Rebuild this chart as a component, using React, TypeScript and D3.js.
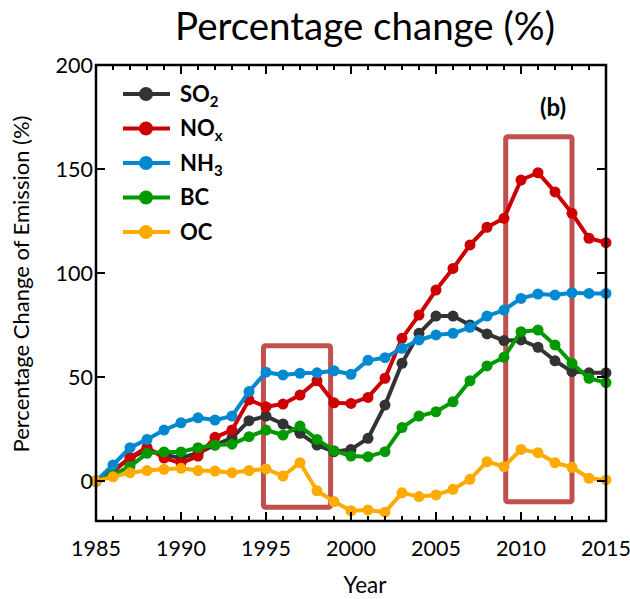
import React from "react";
import * as d3 from "d3";

const years = d3.range(1985, 2016);
const so2 = [0, 5, 11, 15, 12.5, 11.2, 13.4, 17.3, 20.7, 29, 31.2, 27.4, 22.9, 17.3, 14.1, 15.2, 20.5, 36.5, 56.6, 71, 79.3, 79.3, 75, 70.7, 67.5, 67.8, 64.3, 57.8, 52.6, 52, 52];
const nox = [0, 4.5, 11.2, 16.2, 11, 8.6, 12, 21, 24.5, 39, 35.7, 37, 41.3, 48.2, 37.6, 37.3, 40.2, 49.4, 68.6, 79.8, 91.8, 102.2, 113.5, 122, 126.3, 144.7, 148.2, 139, 128.7, 116.7, 114.6];
const nh3 = [0, 7.7, 16, 20, 24.5, 28, 30.4, 29.3, 31.2, 43, 52.3, 51, 51.8, 52, 53, 51.3, 58, 59.3, 63.8, 67.8, 70.2, 71, 73.9, 79.3, 82.2, 87.8, 89.9, 89.4, 90.5, 90.2, 90.2];
const bc = [0, 3, 7, 13.3, 14, 14, 16, 17.3, 17.7, 21.3, 24.5, 22.1, 26.4, 20, 14.6, 12, 11.7, 14.1, 25.7, 31.2, 33.3, 38.1, 48.2, 55.3, 59.5, 71.8, 72.6, 65.4, 56.6, 49.4, 47.3];
const oc = [0, 2, 4, 5, 5.6, 6.1, 5, 4.8, 4, 5, 5.8, 2.4, 8.8, -4.7, -9.9, -14.3, -13.9, -15, -5.7, -7.5, -6.7, -4, 0.8, 9.3, 6.9, 15.2, 13.6, 8.8, 6.6, 1.3, 0.5];

const seriesNames = ["SO", "NO", "NH", "BC", "OC"];
const seriesSubs = ["2", "x", "3", "", ""];
const seriesColors = ["#333333", "#cc0000", "#0088d1", "#009900", "#ffaa00"];
const seriesValues = [so2, nox, nh3, bc, oc];

const xTicks = [1985, 1990, 1995, 2000, 2005, 2010, 2015];
const yTicks = [0, 50, 100, 150, 200];

// highlight boxes: [yearStart, yearEnd, valueTop, valueBottom]
const boxes = [
  [1994.85, 1998.8, 65, -12.6],
  [2009.1, 2013.0, 165.5, -10],
];

const W = 630;
const H = 599;
const left = 96;
const right = 606;
const top = 65;
const bottom = 521;
const font = "Lato, 'Open Sans', sans-serif";

export default function App() {
  const x = d3.scaleLinear().domain([1985, 2015]).range([left, right]);
  const y = d3.scaleLinear().domain([0, 200]).range([481, 65]);
  const line = d3
    .line<number>()
    .x((_, i) => x(years[i]))
    .y((d) => y(d));
  const minorX = d3.range(1985, 2016);

  return (
    <svg width={W} height={H} style={{ position: "absolute", left: 0, top: 0 }}>
      <rect x={0} y={0} width={W} height={H} fill="#ffffff" />
      <text x={365} y={40} textAnchor="middle" fontFamily={font} fontSize={38.5} fill="#000">
        Percentage change (%)
      </text>

      {boxes.map((b, i) => (
        <rect
          key={"b" + i}
          x={x(b[0])}
          y={y(b[2])}
          width={x(b[1]) - x(b[0])}
          height={y(b[3]) - y(b[2])}
          fill="none"
          stroke="#c0504d"
          strokeWidth={5}
          rx={2}
        />
      ))}

      {seriesValues.map((vals, si) => (
        <g key={"s" + si}>
          <path d={line(vals) || ""} fill="none" stroke={seriesColors[si]} strokeWidth={4} strokeLinejoin="round" />
          {vals.map((v, i) => (
            <circle key={i} cx={x(years[i])} cy={y(v)} r={5.5} fill={seriesColors[si]} />
          ))}
        </g>
      ))}

      <rect x={left} y={top} width={right - left} height={bottom - top} fill="none" stroke="#000" strokeWidth={2.5} />

      {minorX.map((yr) => {
        const major = yr % 5 === 0;
        const len = major ? 9 : 5;
        return (
          <g key={"xt" + yr}>
            <line x1={x(yr)} x2={x(yr)} y1={bottom} y2={bottom - len} stroke="#000" strokeWidth={2} />
            <line x1={x(yr)} x2={x(yr)} y1={top} y2={top + len} stroke="#000" strokeWidth={2} />
          </g>
        );
      })}
      {xTicks.map((t) => (
        <text key={"xl" + t} x={x(t)} y={556} textAnchor="middle" fontFamily={font} fontSize={21.5} fill="#000">
          {t}
        </text>
      ))}

      {yTicks.map((t) => (
        <g key={"yt" + t}>
          <line x1={left} x2={left + 9} y1={y(t)} y2={y(t)} stroke="#000" strokeWidth={2} />
          <line x1={right} x2={right - 9} y1={y(t)} y2={y(t)} stroke="#000" strokeWidth={2} />
          <text x={left - 3} y={y(t) + 7.5} textAnchor="end" fontFamily={font} fontSize={21.5} fill="#000">
            {t}
          </text>
        </g>
      ))}

      <text x={553} y={116} textAnchor="middle" fontFamily={font} fontSize={24} fontWeight="bold" fill="#000">
        (b)
      </text>

      <text
        transform={`translate(29,${284}) rotate(-90)`}
        textAnchor="middle"
        fontFamily={font}
        fontSize={22}
        fill="#000"
      >
        Percentage Change of Emission (%)
      </text>
      <text x={365} y={593} textAnchor="middle" fontFamily={font} fontSize={22.5} fill="#000">
        Year
      </text>

      {seriesNames.map((n, i) => {
        const cy = 94 + i * 34.5;
        return (
          <g key={"lg" + i}>
            <line x1={123} x2={170} y1={cy} y2={cy} stroke={seriesColors[i]} strokeWidth={4} />
            <circle cx={146} cy={cy} r={7} fill={seriesColors[i]} />
            <text x={180} y={cy + 7.5} fontFamily={font} fontSize={22} fontWeight="bold" fill="#000">
              {n}
              {seriesSubs[i] ? (
                <tspan fontSize={15} dy={5}>
                  {seriesSubs[i]}
                </tspan>
              ) : null}
            </text>
          </g>
        );
      })}
    </svg>
  );
}
